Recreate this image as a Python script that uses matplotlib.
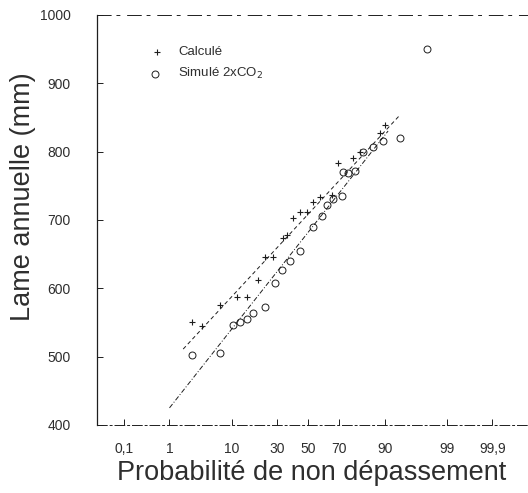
import matplotlib
matplotlib.use("Agg")
import matplotlib.pyplot as plt
from statistics import NormalDist

# valeurs (probabilite en %, lame en mm)
calc_prob = [2.6, 3.8, 7.0, 11.7, 15.4, 20.0, 23.6, 27.8, 33.7, 36.3, 40.0,
             44.7, 49.3, 53.3, 58.0, 65.6, 69.2, 77.5, 80.8, 88.7, 90.2]
calc_val = [551, 545, 576, 587, 587, 612, 646, 646, 674, 678, 703,
            712, 712, 726, 734, 737, 783, 791, 800, 827, 839]

sim_prob = [2.6, 7.0, 10.4, 12.7, 15.4, 17.8, 23.6, 29.0, 33.0, 38.0, 44.7,
            53.3, 59.2, 62.5, 66.3, 71.6, 72.2, 74.9, 78.5, 82.2, 86.2, 89.6,
            93.9, 97.7]
sim_val = [502, 505, 546, 551, 555, 564, 573, 608, 627, 640, 655,
           690, 705, 722, 730, 735, 770, 768, 772, 800, 807, 815,
           820, 950]

calc_fit_prob = [1.8, 93.9]
calc_fit_val = [511, 854]
sim_fit_prob = [1.0, 91.0]
sim_fit_val = [425, 830]

tick_prob = [0.1, 1, 10, 30, 50, 70, 90, 99, 99.9]
tick_lab = ['0,1', '1', '10', '30', '50', '70', '90', '99', '99,9']

nd = NormalDist()
def z(p):
    return [nd.inv_cdf(v / 100.0) for v in p]

plt.rcParams['font.family'] = ['Liberation Sans', 'DejaVu Sans']
ink = '#1e1e1e'
txt = '#2e2e2e'

fig = plt.figure(figsize=(5.28, 4.93), dpi=100)
ax = fig.add_axes([0.184, 0.138, 0.814, 0.832])

ax.plot(z(calc_fit_prob), calc_fit_val, color=ink, lw=0.7, ls=(0, (4, 3)))
ax.plot(z(sim_fit_prob), sim_fit_val, color=ink, lw=0.7, ls=(0, (5, 2, 1, 2)))
ax.plot(z(calc_prob), calc_val, ls='none', marker='+', ms=4, mew=0.8, color=ink)
ax.plot(z(sim_prob), sim_val, ls='none', marker='o', ms=5, mfc='none', mew=0.7,
        color=ink)

# legende
ax.plot([nd.inv_cdf(0.0057)], [946], marker='+', ms=4, mew=0.8, color=ink)
ax.plot([nd.inv_cdf(0.0052)], [914], marker='o', ms=5, mfc='none', mew=0.7, color=ink)
ax.text(nd.inv_cdf(0.0146), 946, 'Calculé', fontsize=9.5, va='center', color=txt)
ax.text(nd.inv_cdf(0.0146), 914, 'Simulé 2xCO$_2$', fontsize=9.5, va='center',
        color=txt)

ax.set_xlim(-3.54, 3.67)
ax.set_ylim(400, 1000)
ax.set_xticks(z(tick_prob))
ax.set_xticklabels(tick_lab)
ax.set_yticks([400, 500, 600, 700, 800, 900, 1000])

ax.tick_params(axis='both', direction='in', length=4, width=0.7, colors=ink,
               labelcolor=txt, labelsize=10)
ax.tick_params(axis='x', pad=12)
ax.tick_params(axis='y', pad=19)

ax.spines['right'].set_visible(False)
ax.spines['left'].set_linewidth(0.9)
ax.spines['bottom'].set_linewidth(0.7)
ax.spines['bottom'].set_linestyle((0, (10, 3, 2, 3)))
ax.spines['top'].set_linewidth(0.7)
ax.spines['top'].set_linestyle((0, (14, 6, 3, 8)))
for s in ax.spines.values():
    s.set_color(ink)

ax.set_xlabel('Probabilité de non dépassement', fontsize=19.5, color=txt,
              labelpad=3)
ax.set_ylabel('Lame annuelle (mm)', fontsize=19.5, color=txt)
ax.yaxis.set_label_coords(-0.142, 0.556)

fig.savefig('out.png', dpi=100)
